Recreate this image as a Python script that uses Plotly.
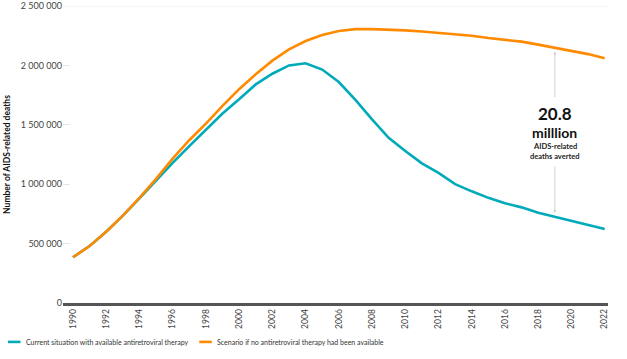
import plotly.graph_objects as go

years = list(range(1990, 2023))
current = [385000, 480000, 600000, 735000, 880000, 1030000, 1180000, 1320000, 1455000,
           1595000, 1715000, 1840000, 1930000, 2000000, 2018000, 1965000, 1860000, 1710000,
           1545000, 1390000, 1280000, 1175000, 1095000, 1000000, 940000, 885000, 840000,
           805000, 760000, 725000, 690000, 655000, 623000]
scenario = [385000, 480000, 600000, 735000, 885000, 1045000, 1215000, 1370000, 1510000,
            1660000, 1800000, 1925000, 2040000, 2135000, 2205000, 2255000, 2290000, 2305000,
            2305000, 2303000, 2295000, 2285000, 2275000, 2262000, 2250000, 2230000, 2212000,
            2200000, 2175000, 2150000, 2125000, 2095000, 2060000]
y_ticks = [0, 500000, 1000000, 1500000, 2000000, 2500000]
x_ticks = list(range(1990, 2023, 2))
series_names = ["Current situation with available antiretroviral therapy",
                "Scenario if no antiretroviral therapy had been available"]
annot_year = 2019

TEAL = "#00AAB9"
ORANGE = "#FF8A00"
FONT = "Lato"
colors = [TEAL, ORANGE]

fig = go.Figure()
fig.add_trace(go.Scatter(x=years, y=current, mode="lines", name=series_names[0],
                         line=dict(color=TEAL, width=2.6)))
fig.add_trace(go.Scatter(x=years, y=scenario, mode="lines", name=series_names[1],
                         line=dict(color=ORANGE, width=2.6)))

fig.add_shape(type="line", xref="paper", x0=0, x1=1, yref="y", y0=y_ticks[-1], y1=y_ticks[-1],
              line=dict(color="#ececec", width=1), layer="below")

# legend drawn manually (short line swatches like the reference)
leg_y = -0.131
leg_x = [-0.101, 0.25]
for k in range(2):
    fig.add_shape(type="line", xref="paper", yref="paper", x0=leg_x[k], x1=leg_x[k] + 0.023,
                  y0=leg_y, y1=leg_y, line=dict(color=colors[k], width=2.6))
    fig.add_annotation(x=leg_x[k] + 0.029, y=leg_y, xref="paper", yref="paper",
                       xanchor="left", yanchor="middle", showarrow=False,
                       text=series_names[k], font=dict(family=FONT, size=7, color="#333"))

i = years.index(annot_year)
top = scenario[i] - 35000
bot = current[i] + 35000
fig.add_annotation(x=annot_year, y=top, ax=annot_year, ay=1720000, xref="x", yref="y",
                   axref="x", ayref="y", text="", showarrow=True, arrowhead=2, arrowsize=0.6,
                   arrowwidth=0.8, arrowcolor="#c4c4c4")
fig.add_annotation(x=annot_year, y=bot, ax=annot_year, ay=1160000, xref="x", yref="y",
                   axref="x", ayref="y", text="", showarrow=True, arrowhead=2, arrowsize=0.6,
                   arrowwidth=0.8, arrowcolor="#c4c4c4")
fig.add_annotation(x=annot_year, y=1591000, xref="x", yref="y", showarrow=False,
                   text="<b>20.8</b>", font=dict(family=FONT, size=17, color="#111"))
fig.add_annotation(x=annot_year, y=1439000, xref="x", yref="y", showarrow=False,
                   text="<b>milllion</b>", font=dict(family=FONT, size=14, color="#111"))
fig.add_annotation(x=annot_year, y=1320000, xref="x", yref="y", showarrow=False,
                   text="<b>AIDS-related</b>", font=dict(family=FONT, size=7.5, color="#222"))
fig.add_annotation(x=annot_year, y=1235000, xref="x", yref="y", showarrow=False,
                   text="<b>deaths averted</b>", font=dict(family=FONT, size=7.5, color="#222"))

fig.update_layout(
    width=627, height=359,
    margin=dict(l=63, r=19, t=6, b=56, autoexpand=False),
    paper_bgcolor="white", plot_bgcolor="white",
    separators=". ",
    font=dict(family=FONT, size=9, color="#444"),
    showlegend=False,
    xaxis=dict(range=[1989.4, 2022.2], tickvals=x_ticks, tickangle=-90, showgrid=False,
               zeroline=False, showline=True, linecolor="#555", linewidth=2.5,
               ticks="", tickfont=dict(size=8.5, color="#444")),
    yaxis=dict(range=[0, 2500000], tickvals=y_ticks, tickformat=",d", showgrid=False,
               zeroline=False, showline=False, ticks="inside", ticklen=7, tickcolor="#e6e6e6",
               tickfont=dict(size=9, color="#444"),
               title=dict(text="<b>Number of AIDS-related deaths</b>", standoff=8,
                          font=dict(family=FONT, size=8.5, color="#111"))),
)

fig.write_html("out.html", config={"displayModeBar": False},
               post_script="document.body.style.margin='0';")
